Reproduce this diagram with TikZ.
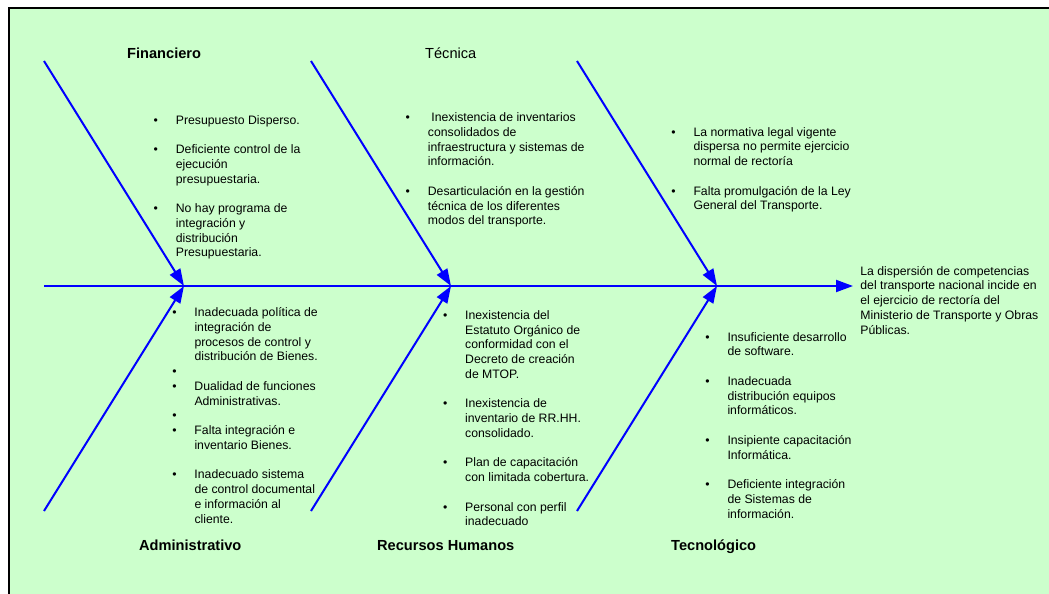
\documentclass[tikz,border=0pt]{standalone}
\usepackage{fontspec}
\setmainfont{Liberation Sans}
\usetikzlibrary{arrows.meta}
\definecolor{bgreen}{HTML}{CCFFCC}
\definecolor{bblue}{HTML}{0000FF}
\newcommand{\itm}{\llap{\textbullet\hspace{17.9pt}}}
\begin{document}
\begin{tikzpicture}[x=1pt,y=-1pt,
  bone/.style={draw=bblue, line width=2pt, -{Triangle[length=17pt,width=12pt]}},
  cause/.style={anchor=base west, inner sep=0pt, font=\fontsize{12.25}{14.75}\selectfont},
  headb/.style={anchor=base west, inner sep=0pt, font=\fontsize{14.6}{17}\selectfont\bfseries},
  headr/.style={anchor=base west, inner sep=0pt, font=\fontsize{14.6}{17}\selectfont}]
\useasboundingbox (0,0) rectangle (1049,594);
\fill[bgreen] (9,8) rectangle (1049,600);
\draw[black, line width=2.5pt] (9,600) -- (9,8) -- (1049,8);

% spine
\coordinate (tail) at (44,286);
\coordinate (j1) at (184,286);
\coordinate (j2) at (451,286);
\coordinate (j3) at (717,286);
\coordinate (tip) at (853,286);
\coordinate (u1) at (44,61);
\coordinate (u2) at (311,61);
\coordinate (u3) at (577,61);
\coordinate (l1) at (44,511);
\coordinate (l2) at (311,511);
\coordinate (l3) at (577,511);

\draw[bone] (tail) -- (tip);
\draw[bone] (u1) -- (j1);
\draw[bone] (u2) -- (j2);
\draw[bone] (u3) -- (j3);
\draw[bone] (l1) -- (j1);
\draw[bone] (l2) -- (j2);
\draw[bone] (l3) -- (j3);

% headings
\node[headb] (hfin) at (127,58.3) {Financiero};
\node[headr] (htec) at (425,58.3) {Técnica};
\node[headb] (hadm) at (139,550) {Administrativo};
\node[headb] (hrh) at (377,550) {Recursos Humanos};
\node[headb] (htgc) at (671,550) {Tecnológico};

% cause blocks
\node[cause] (cfin) at (175.7,124) {\begin{tabular}[t]{@{}l@{}}
\itm Presupuesto Disperso.\\
\\
\itm Deficiente control de la\\
ejecución\\
presupuestaria.\\
\\
\itm No hay programa de\\
integración y\\
distribución\\
Presupuestaria.
\end{tabular}};

\node[cause] (ctec) at (427.7,121.7) {\begin{tabular}[t]{@{}l@{}}
\itm\hspace{3.5pt}Inexistencia de inventarios\\
consolidados de\\
infraestructura y sistemas de\\
información.\\
\\
\itm Desarticulación en la gestión\\
técnica de los diferentes\\
modos del transporte.
\end{tabular}};

\node[cause] (cleg) at (693.3,136) {\begin{tabular}[t]{@{}l@{}}
\itm La normativa legal vigente\\
dispersa no permite ejercicio\\
normal de rectoría\\
\\
\itm Falta promulgación de la Ley\\
General del Transporte.
\end{tabular}};

\node[cause] (cadm) at (194.3,316.7) {\begin{tabular}[t]{@{}l@{}}
\itm Inadecuada política de\\
integración de\\
procesos de control y\\
distribución de Bienes.\\
\itm\\
\itm Dualidad de funciones\\
Administrativas.\\
\itm\\
\itm Falta integración e\\
inventario Bienes.\\
\\
\itm Inadecuado sistema\\
de control documental\\
e información al\\
cliente.
\end{tabular}};

\node[cause] (crh) at (465,319.3) {\begin{tabular}[t]{@{}l@{}}
\itm Inexistencia del\\
Estatuto Orgánico de\\
conformidad con el\\
Decreto de creación\\
de MTOP.\\
\\
\itm Inexistencia de\\
inventario de RR.HH.\\
consolidado.\\
\\
\itm Plan de capacitación\\
con limitada cobertura.\\
\\
\itm Personal con perfil\\
inadecuado
\end{tabular}};

\node[cause] (ctgc) at (727.3,341) {\begin{tabular}[t]{@{}l@{}}
\itm Insuficiente desarrollo\\
de software.\\
\\
\itm Inadecuada\\
distribución equipos\\
informáticos.\\
\\
\itm Insipiente capacitación\\
Informática.\\
\\
\itm Deficiente integración\\
de Sistemas de\\
información.
\end{tabular}};

% effect
\node[cause] (eff) at (860.2,275) {\begin{tabular}[t]{@{}l@{}}
La dispersión de competencias\\
del transporte nacional incide en\\
el ejercicio de rectoría del\\
Ministerio de Transporte y Obras\\
Públicas.
\end{tabular}};
\end{tikzpicture}
\end{document}
